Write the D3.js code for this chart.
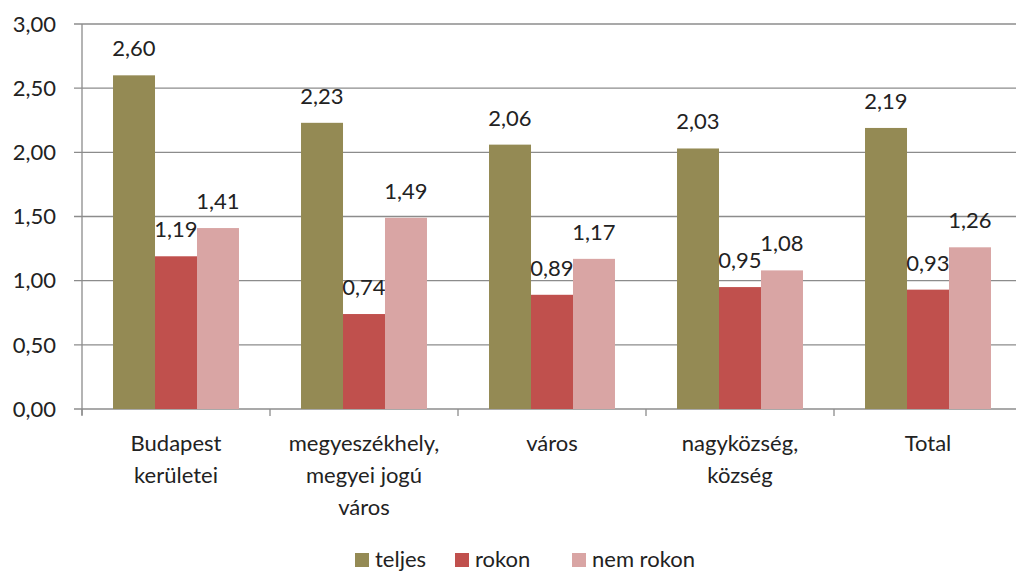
<!DOCTYPE html>
<html><head><meta charset="utf-8">
<script src="https://cdn.jsdelivr.net/npm/d3@7"></script>
<style>body{margin:0;background:#fff}svg{display:block}text{font-family:Lato, "Open Sans", sans-serif;fill:#222}</style>
</head><body><svg id="c" width="1016" height="574"></svg>
<script>
const categories = [["Budapest","kerületei"],["megyeszékhely,","megyei jogú","város"],["város"],["nagyközség,","község"],["Total"]];
const seriesNames = ["teljes","rokon","nem rokon"];
const teljes = [2.60,2.23,2.06,2.03,2.19];
const rokon = [1.19,0.74,0.89,0.95,0.93];
const nemRokon = [1.41,1.49,1.17,1.08,1.26];
const yTicks = [0,0.5,1,1.5,2,2.5,3];
const colors = ["#948A54","#C0504D","#D9A5A4"];

(function(){
const series = [teljes, rokon, nemRokon];
const svg = d3.select("#c");
const L = 82, R = 1022, T = 24, B = 409;
const FS = 22;
const idx = d3.range(categories.length);
const x = d3.scaleBand().domain(idx).range([L,R]).paddingInner(0.33).paddingOuter(0.165);
const xb = d3.scaleBand().domain(d3.range(3)).range([0,x.bandwidth()]);
const y = d3.scaleLinear().domain([0,3]).range([B,T]);
const fmt = v => d3.format(".2f")(v).replace(".",",");

svg.append("g").selectAll("line").data(yTicks).join("line")
  .attr("x1",L-8).attr("x2",1016).attr("y1",d=>y(d)).attr("y2",d=>y(d))
  .attr("stroke","#8c8c8c").attr("stroke-width",1.3);
svg.append("g").selectAll("text").data(yTicks).join("text")
  .attr("x",56).attr("y",d=>y(d)).attr("dy","0.35em").attr("text-anchor","end")
  .attr("font-size",FS).text(fmt);
svg.append("line").attr("x1",L).attr("x2",L).attr("y1",T).attr("y2",B+6).attr("stroke","#8c8c8c").attr("stroke-width",1.3);
const step = x.step();
svg.append("g").selectAll("line").data(d3.range(categories.length+1)).join("line")
  .attr("x1",d=>L+d*step).attr("x2",d=>L+d*step).attr("y1",B).attr("y2",B+7)
  .attr("stroke","#8c8c8c").attr("stroke-width",1.3);

series.forEach((s,si)=>{
  const g = svg.append("g");
  g.selectAll("rect").data(s).join("rect")
    .attr("x",(d,i)=>x(i)+xb(si)).attr("width",xb.bandwidth())
    .attr("y",d=>y(d)).attr("height",d=>B-y(d)).attr("fill",colors[si]);
  g.selectAll("text").data(s).join("text")
    .attr("x",(d,i)=>x(i)+xb(si)+xb.bandwidth()/2).attr("y",d=>y(d)-19)
    .attr("text-anchor","middle").attr("font-size",FS).text(fmt);
});

idx.forEach(i=>{
  const cx = x(i)+x.bandwidth()/2;
  const t = svg.append("text").attr("text-anchor","middle").attr("font-size",FS).attr("x",cx).attr("y",451);
  categories[i].forEach((line,k)=>t.append("tspan").attr("x",cx).attr("dy",k?32:0).text(line));
});

const legX = [355,455,572];
seriesNames.forEach((n,i)=>{
  svg.append("rect").attr("x",legX[i]).attr("y",553).attr("width",14).attr("height",14).attr("fill",colors[i]);
  svg.append("text").attr("x",legX[i]+20).attr("y",567).attr("font-size",FS).text(n);
});
})();
</script></body></html>
